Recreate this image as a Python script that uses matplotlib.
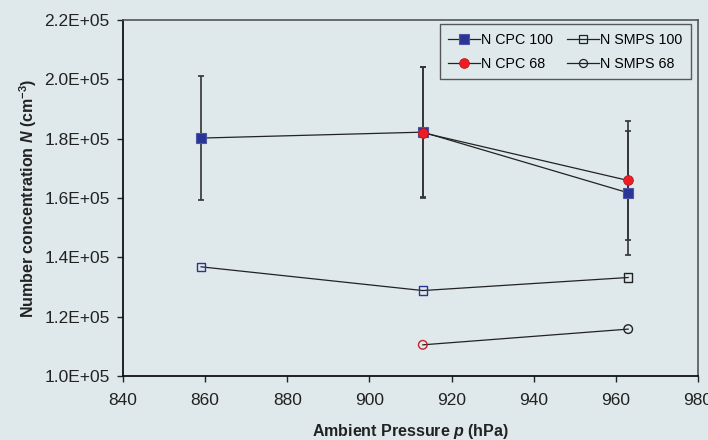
import matplotlib
matplotlib.use("Agg")
import matplotlib.pyplot as plt
from matplotlib.lines import Line2D

plt.rcParams['font.family'] = ['Liberation Sans', 'DejaVu Sans']
plt.rcParams['mathtext.fontset'] = 'custom'
plt.rcParams['mathtext.rm'] = 'Liberation Sans:bold'
plt.rcParams['mathtext.it'] = 'Liberation Sans:bold:italic'
plt.rcParams['mathtext.bf'] = 'Liberation Sans:bold'

# ---- data ----
p_cpc100 = [859, 913, 963]
n_cpc100 = [1.802e5, 1.822e5, 1.6175e5]
err_cpc100 = [0.21e5, 0.22e5, 0.21e5]

p_cpc68 = [913, 963]
n_cpc68 = [1.820e5, 1.659e5]
err_cpc68 = [0.22e5, 0.199e5]

p_smps100 = [859, 913, 963]
n_smps100 = [1.368e5, 1.288e5, 1.332e5]

p_smps68 = [913, 963]
n_smps68 = [1.105e5, 1.158e5]

x_ticks = [840, 860, 880, 900, 920, 940, 960, 980]
y_ticks = [1.0e5, 1.2e5, 1.4e5, 1.6e5, 1.8e5, 2.0e5, 2.2e5]
y_ticklabels = ['1.0E+05', '1.2E+05', '1.4E+05', '1.6E+05', '1.8E+05', '2.0E+05', '2.2E+05']

# ---- styles ----
BG = '#dfe9eb'
BLUE = '#2b3595'
RED = '#f01c24'
smps100_edges = [BLUE, BLUE, '#222222']
smps68_edges = ['#c8202a', '#222222']

fig = plt.figure(figsize=(7.08, 4.40), dpi=100, facecolor=BG)
ax = fig.add_axes([0.1737, 0.1455, 0.8122, 0.809])
ax.set_facecolor(BG)

lw = 0.9
# SMPS 100
ax.plot(p_smps100, n_smps100, color='#222222', lw=lw, zorder=2)
ax.scatter(p_smps100, n_smps100, marker='s', s=6.0**2, facecolors='none',
           edgecolors=smps100_edges, linewidths=1.0, zorder=3)
# SMPS 68
ax.plot(p_smps68, n_smps68, color='#222222', lw=lw, zorder=2)
ax.scatter(p_smps68, n_smps68, marker='o', s=6.2**2, facecolors='none',
           edgecolors=smps68_edges, linewidths=1.0, zorder=3)

# CPC 100
ax.errorbar(p_cpc100, n_cpc100, yerr=err_cpc100, fmt='none', ecolor='#333333',
            elinewidth=1.2, capsize=1.9, capthick=1.2, zorder=2)
ax.plot(p_cpc100, n_cpc100, color='#222222', lw=lw, marker='s', markersize=7.3,
        markerfacecolor=BLUE, markeredgecolor='#4a56a8', markeredgewidth=0.8, zorder=4)
# CPC 68
ax.errorbar(p_cpc68, n_cpc68, yerr=err_cpc68, fmt='none', ecolor='#333333',
            elinewidth=1.2, capsize=1.9, capthick=1.2, zorder=2)
ax.plot(p_cpc68, n_cpc68, color='#222222', lw=lw, marker='o', markersize=7.0,
        markerfacecolor=RED, markeredgecolor='#b81820', markeredgewidth=0.6, zorder=5)

ax.set_xlim(840, 980)
ax.set_ylim(1.0e5, 2.2e5)
ax.set_xticks(x_ticks)
ax.set_xticklabels([str(v) for v in x_ticks], fontsize=12.5, color='#222222')
ax.set_yticks(y_ticks)
ax.set_yticklabels(y_ticklabels, fontsize=12.5, color='#222222')
ax.tick_params(axis='both', direction='out', length=4.5, width=1.0, color='#222222')
ax.tick_params(axis='x', pad=8)
ax.tick_params(axis='y', pad=5)

for s in ['left', 'bottom']:
    ax.spines[s].set_color('#111111')
    ax.spines[s].set_linewidth(1.3)
for s in ['top', 'right']:
    ax.spines[s].set_color('#555555')
    ax.spines[s].set_linewidth(1.2)

ax.set_xlabel(r'Ambient Pressure $p$ (hPa)', fontsize=11.5, fontweight='bold',
              color='#222222', labelpad=10)
ax.set_ylabel(r'Number concentration $N$ (cm$^{-3}$)', fontsize=11.5, fontweight='bold',
              color='#222222', labelpad=4)

handles = [
    Line2D([], [], color='#222222', lw=lw, marker='s', markersize=7.3,
           markerfacecolor=BLUE, markeredgecolor='#4a56a8', markeredgewidth=0.8),
    Line2D([], [], color='#222222', lw=lw, marker='o', markersize=7.0,
           markerfacecolor=RED, markeredgecolor='#b81820', markeredgewidth=0.6),
    Line2D([], [], color='#222222', lw=lw, marker='s', markersize=5.5,
           markerfacecolor='none', markeredgecolor='#222222', markeredgewidth=0.9),
    Line2D([], [], color='#222222', lw=lw, marker='o', markersize=5.8,
           markerfacecolor='none', markeredgecolor='#222222', markeredgewidth=0.9),
]
labels = ['N CPC 100', 'N CPC 68', 'N SMPS 100', 'N SMPS 68']
leg = ax.legend(handles, labels, ncol=2, loc='upper right',
                bbox_to_anchor=(0.988, 0.989), borderaxespad=0, fontsize=10.3,
                frameon=True, fancybox=False, facecolor=BG, edgecolor='#333333',
                handlelength=2.2, handletextpad=0.1, columnspacing=1.0,
                labelspacing=0.7, borderpad=0.6)
leg.get_frame().set_linewidth(1.0)

fig.savefig('out.png', dpi=100, facecolor=BG)
